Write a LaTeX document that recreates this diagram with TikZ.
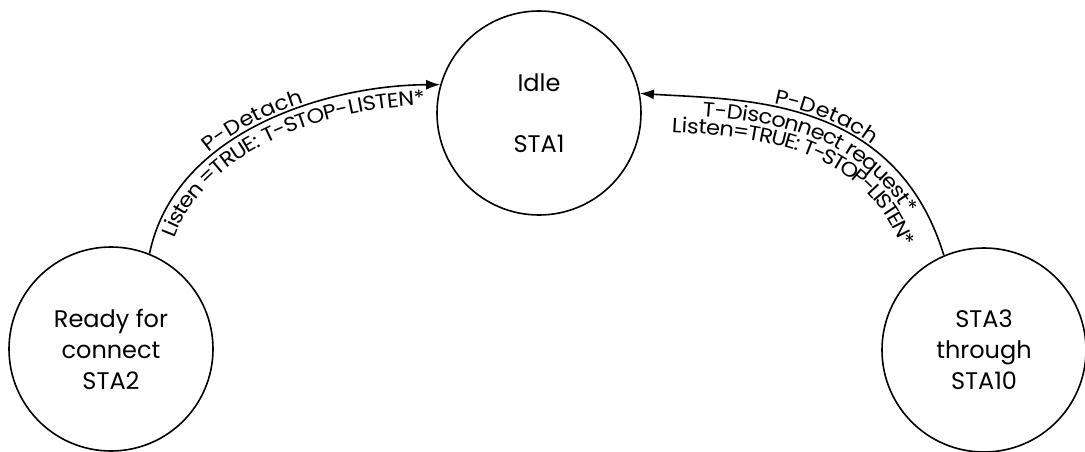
\documentclass[tikz,border=0pt]{standalone}
\usepackage{fontspec}
\setmainfont{Poppins}
\newfontfamily\lblfamily[FakeStretch=1.1]{Poppins}
\usetikzlibrary{arrows.meta,decorations.text}
\tikzset{
  state/.style={circle, draw, line width=1.6pt, minimum size=204pt, inner sep=0pt,
    align=center, font=\fontsize{24}{31}\selectfont},
  trans/.style={line width=1.6pt, -{Latex[length=14pt,width=10pt]}},
}
\newcommand{\lblfont}{\lblfamily\fontsize{20.5}{22}\selectfont}
\begin{document}
\begin{tikzpicture}[x=1pt, y=-1pt]
\useasboundingbox (0,0) rectangle (1085,452);

% states
\node[state] (idle) at (539,113) {Idle\\[30pt]STA1};
\node[state] (sta2) at (111,349) {Ready for\\connect\\STA2};
\node[state] (sta3) at (984,350) {STA3\\through\\STA10};

% transitions back to Idle
\draw[trans] (sta2.68) .. controls (175,130) and (330,85) .. (idle.164);
\draw[trans] (sta3.113) .. controls (895,95) and (740,100) .. (idle.11);

% labels on the left transition
\path[decorate, decoration={text along path, raise=4pt,
    text align={left indent=118pt},
    text={|\lblfont|P-Detach}}]
  (sta2.68) .. controls (175,130) and (330,85) .. (idle.164);
\path[decorate, decoration={text along path, raise=-20pt,
    text align={left indent=24pt},
    text={|\lblfont|Listen =TRUE: T-STOP-LISTEN*}}]
  (sta2.68) .. controls (175,130) and (330,85) .. (idle.164);

% labels on the right transition
\path[decorate, decoration={text along path, raise=3pt,
    text align={left indent=134pt},
    text={|\lblfont|P-Detach}}]
  (idle.11) .. controls (740,100) and (895,95) .. (sta3.113);
\path[decorate, decoration={text along path, raise=-19pt,
    text align={left indent=64pt},
    text={|\lblfont|T-Disconnect request*}}]
  (idle.11) .. controls (740,100) and (895,95) .. (sta3.113);
\path[decorate, decoration={text along path, raise=-37pt,
    text align={left indent=34pt},
    text={|\lblfont|Listen=TRUE: T-STOP-LISTEN*}}]
  (idle.11) .. controls (740,100) and (895,95) .. (sta3.113);
\end{tikzpicture}
\end{document}
